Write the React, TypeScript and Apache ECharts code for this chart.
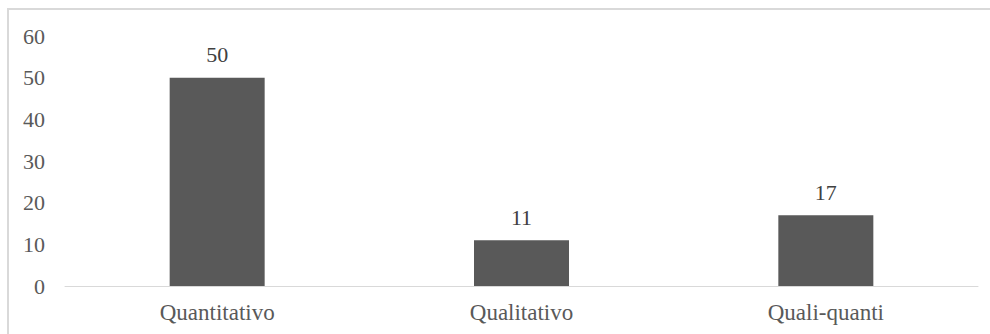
import React, { useEffect, useRef } from "react";
import * as echarts from "echarts";

const categories = ["Quantitativo", "Qualitativo", "Quali-quanti"];
const values = [50, 11, 17];
const yTicks = { min: 0, max: 60, interval: 10 };

export default function App() {
  const ref = useRef<HTMLDivElement>(null);
  useEffect(() => {
    if (!ref.current) return;
    const chart = echarts.init(ref.current, null, { renderer: "svg" });
    const font = "serif";
    chart.setOption({
      animation: false,
      backgroundColor: "#ffffff",
      textStyle: { fontFamily: font },
      graphic: [
        {
          type: "rect",
          shape: { x: 8, y: 9, width: 1000, height: 400 },
          style: { fill: "none", stroke: "#d9d9d9", lineWidth: 2 },
          silent: true,
        },
      ],
      grid: { left: 65, right: 12, top: 36, bottom: 48 },
      xAxis: {
        type: "category",
        data: categories,
        axisLine: { lineStyle: { color: "#d9d9d9", width: 1 } },
        axisTick: { show: false },
        axisLabel: { color: "#595959", fontSize: 23, fontFamily: font, margin: 15 },
      },
      yAxis: {
        type: "value",
        min: yTicks.min,
        max: yTicks.max,
        interval: yTicks.interval,
        splitLine: { show: false },
        axisLine: { show: false },
        axisTick: { show: false },
        axisLabel: { color: "#595959", fontSize: 22, fontFamily: font, margin: 20 },
      },
      series: [
        {
          type: "bar",
          data: values,
          barWidth: 95,
          itemStyle: { color: "#595959" },
          label: {
            show: true,
            position: "top",
            distance: 12,
            color: "#404040",
            fontSize: 22,
            fontFamily: font,
          },
        },
      ],
    });
    return () => chart.dispose();
  }, []);
  return (
    <div
      ref={ref}
      style={{ position: "absolute", left: 0, top: 0, width: 990, height: 334 }}
    />
  );
}
